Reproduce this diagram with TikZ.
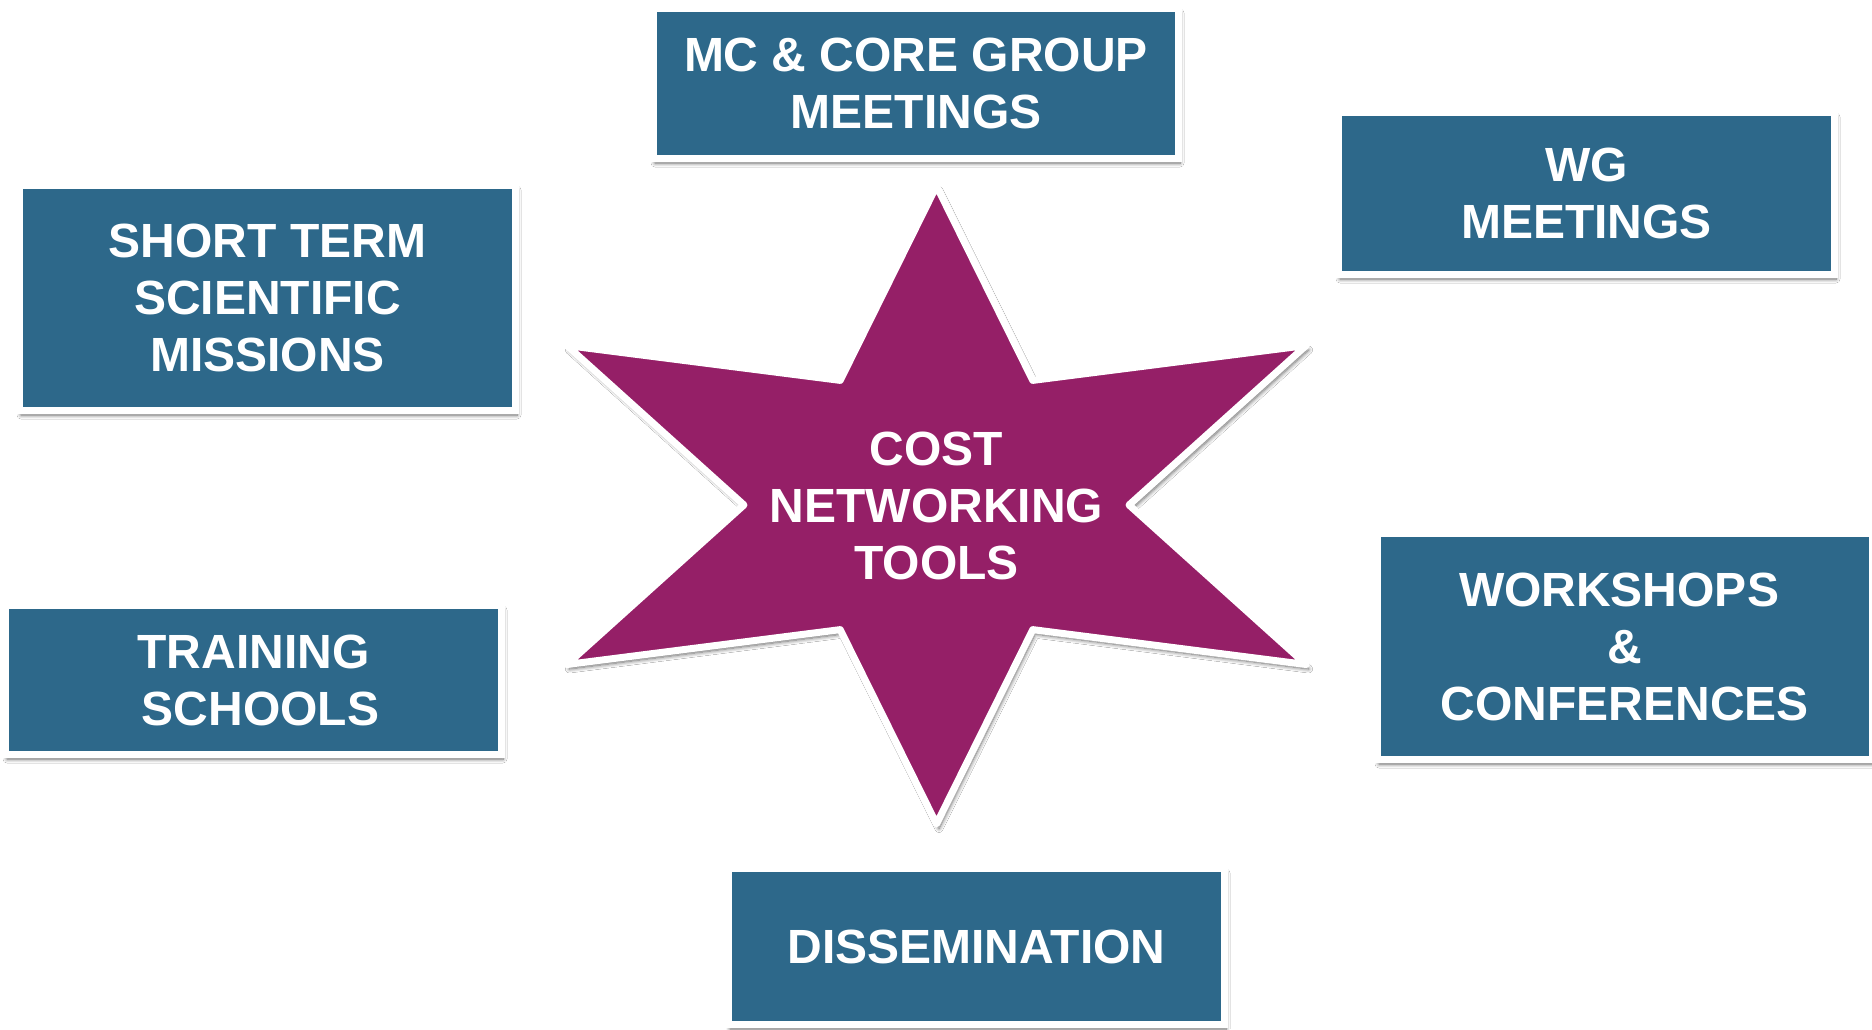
\documentclass[tikz,border=0pt]{standalone}
\usepackage{fontspec}
\setmainfont{Liberation Sans}
\usetikzlibrary{shadows.blur}
\definecolor{boxblue}{RGB}{45,104,138}
\definecolor{starpurple}{RGB}{149,31,103}
\tikzset{
  toolbox/.style={draw=white, line width=7pt, fill=boxblue, text=white,
    align=center, inner sep=0pt,
    font=\fontsize{48}{57}\selectfont\bfseries,
    blur shadow={shadow xshift=1.5pt, shadow yshift=-4.5pt, shadow blur steps=8,
      shadow blur radius=4pt, shadow opacity=60}},
  startext/.style={text=white, align=center, inner sep=0pt,
    font=\fontsize{48}{57}\selectfont\bfseries},
  starshape/.style={draw=white, fill=starpurple, line width=7pt, line join=round,
    blur shadow={shadow xshift=2.5pt, shadow yshift=-4.5pt, shadow blur steps=8,
      shadow blur radius=4pt, shadow opacity=60}}
}
\begin{document}
\begin{tikzpicture}[x=1pt,y=-1pt]
\useasboundingbox[fill=white] (0,0) rectangle (1872,1029);
% star
\begin{scope}[shift={(936.5,505)}, xscale=1.338]
\path[starshape] (90:319) -- (120:143.9) -- (150:319) -- (180:143.9)
  -- (210:319) -- (240:143.9) -- (270:319) -- (300:143.9) -- (330:319)
  -- (0:143.9) -- (30:319) -- (60:143.9) -- cycle;
\end{scope}
\node[startext] (star) at (936.5,506) {COST\\NETWORKING\\TOOLS};
% boxes
\node[toolbox, minimum width=525, minimum height=150] (mc) at (916,83.5)
  {MC \& CORE GROUP\\MEETINGS};
\node[toolbox, minimum width=496, minimum height=162] (wg) at (1586.5,193.5)
  {WG\\MEETINGS};
\node[toolbox, minimum width=496, minimum height=225] (stsm) at (267.5,298)
  {SHORT TERM\\SCIENTIFIC\\MISSIONS};
\node[toolbox, minimum width=496, minimum height=149] (ts) at (253.5,680)
  {TRAINING\\\hspace*{14pt}SCHOOLS};
\node[toolbox, minimum width=495, minimum height=226] (ws) at (1625,646.5)
  {WORKSHOPS\hspace*{12pt}\\\&\\CONFERENCES};
\node[toolbox, minimum width=496, minimum height=156] (dis) at (976.5,946.5)
  {DISSEMINATION};
\end{tikzpicture}
\end{document}
